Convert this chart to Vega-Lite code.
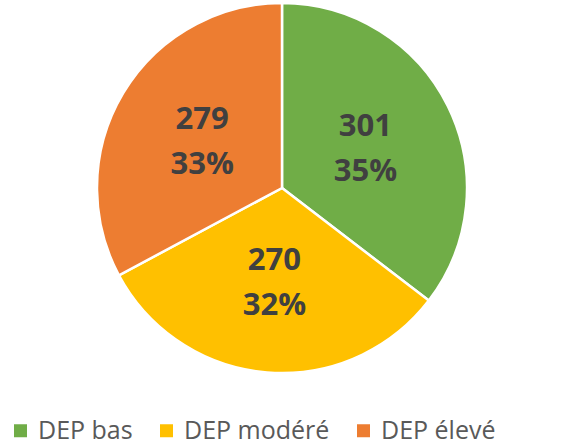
{
  "$schema": "https://vega.github.io/schema/vega-lite/v6.json",
  "width": 564,
  "height": 376,
  "padding": {"left": 0, "top": 0, "right": 20, "bottom": 69},
  "autosize": {"type": "none"},
  "background": "white",
  "config": {"view": {"stroke": null}},
  "data": {
    "values": [
      {"categorie": "DEP bas", "valeur": 301, "ordre": 1, "pct": "35%"},
      {"categorie": "DEP modéré", "valeur": 270, "ordre": 2, "pct": "32%"},
      {"categorie": "DEP élevé", "valeur": 279, "ordre": 3, "pct": "33%"}
    ]
  },
  "encoding": {
    "theta": {"field": "valeur", "type": "quantitative", "stack": true},
    "order": {"field": "ordre", "type": "quantitative"},
    "color": {
      "field": "categorie",
      "type": "nominal",
      "scale": {
        "domain": ["DEP bas", "DEP modéré", "DEP élevé"],
        "range": ["#70AD47", "#FFC000", "#ED7D31"]
      },
      "legend": {
        "title": null,
        "orient": "none",
        "legendX": 8,
        "legendY": 418,
        "direction": "horizontal",
        "symbolType": "square",
        "symbolSize": 169,
        "symbolStrokeWidth": 0,
        "labelFont": "Open Sans",
        "labelFontSize": 25,
        "labelColor": "#595959",
        "labelOffset": 5,
        "columnPadding": 21,
        "labelLimit": 300
      }
    }
  },
  "layer": [
    {
      "mark": {"type": "arc", "outerRadius": 185, "stroke": "white", "strokeWidth": 2.5}
    },
    {
      "mark": {
        "type": "text",
        "radius": 93,
        "font": "Open Sans",
        "fontSize": 31,
        "fontWeight": "bold",
        "color": "#404040",
        "lineHeight": 45,
        "baseline": "middle",
        "dy": -20
      },
      "encoding": {
        "text": {"field": "lignes"},
        "color": {"value": "#404040"}
      },
      "transform": [
        {"calculate": "[format(datum.valeur, 'd'), datum.pct]", "as": "lignes"}
      ]
    }
  ]
}
